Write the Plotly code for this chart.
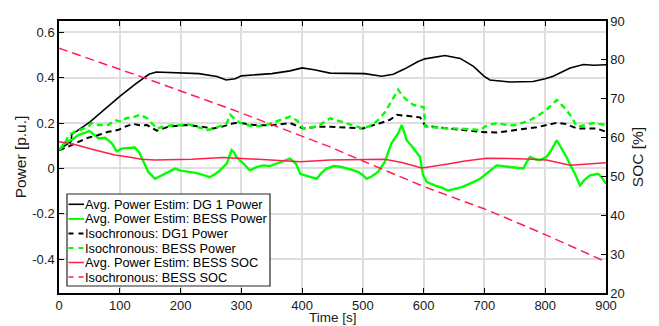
import plotly.graph_objects as go

# ---------------- data ----------------
# Average power estimation: DG 1 power [p.u.]
t_dg_avg = [0, 10, 20, 21, 30, 51, 75, 100, 125, 148, 160, 200, 230, 260, 275, 290, 300,
            350, 380, 400, 420, 446, 503, 531, 550, 569, 590, 602, 635, 660, 682, 700, 709,
            742, 780, 800, 813, 841, 863, 880, 900]
p_dg_avg = [0.083, 0.1, 0.118, 0.15, 0.165, 0.205, 0.26, 0.317, 0.37, 0.415, 0.425, 0.42,
            0.418, 0.405, 0.39, 0.395, 0.408, 0.418, 0.43, 0.443, 0.435, 0.42, 0.418, 0.406,
            0.415, 0.439, 0.47, 0.483, 0.498, 0.485, 0.45, 0.405, 0.39, 0.381, 0.383, 0.395,
            0.406, 0.443, 0.458, 0.455, 0.457]

# Average power estimation: BESS power [p.u.]
t_bess_avg = [0, 5, 10, 20, 32, 43, 50, 57, 65, 76, 87, 95, 103, 115, 125, 132, 140, 147,
              158, 166, 174, 183, 191, 200, 213, 225, 238, 248, 257, 265, 276, 284, 288, 292,
              300, 314, 325, 336, 347, 358, 370, 380, 390, 397, 410, 424, 432, 440, 452, 465,
              480, 492, 500, 506, 515, 525, 536, 547, 558, 564, 568, 572, 580, 586, 594, 599,
              605, 619, 630, 640, 652, 663, 678, 693, 705, 720, 742, 764, 770, 775, 784, 791,
              802, 810, 819, 827, 835, 842, 849, 857, 865, 874, 887, 893, 900]
p_bess_avg = [0.08, 0.1, 0.115, 0.124, 0.147, 0.157, 0.165, 0.15, 0.132, 0.135, 0.11, 0.075,
              0.087, 0.09, 0.092, 0.07, 0.02, -0.016, -0.046, -0.035, -0.024, -0.01, -0.001,
              -0.01, -0.016, -0.02, -0.03, -0.039, -0.025, -0.009, 0.021, 0.08, 0.07, 0.05,
              0.03, -0.009, 0.005, 0.013, 0.01, 0.021, 0.03, 0.043, 0.02, -0.024, -0.035,
              -0.046, -0.02, -0.001, 0.01, 0.006, -0.005, -0.016, -0.03, -0.046, -0.035,
              -0.016, 0.028, 0.11, 0.154, 0.191, 0.16, 0.124, 0.1, 0.08, 0.05, -0.03, -0.06,
              -0.076, -0.085, -0.098, -0.09, -0.083, -0.065, -0.046, -0.02, 0.013, 0.006,
              -0.001, 0.03, 0.05, 0.04, 0.036, 0.05, 0.08, 0.124, 0.09, 0.05, 0.01, -0.024,
              -0.076, -0.05, -0.031, -0.024, -0.04, -0.068]

# Isochronous: DG1 power [p.u.]
t_dg_iso = [0, 15, 32, 48, 65, 81, 98, 110, 122, 133, 145, 161, 180, 210, 230, 254, 270,
            287, 298, 320, 350, 380, 402, 429, 446, 470, 500, 528, 545, 556, 577, 594, 603,
            638, 693, 720, 753, 786, 819, 835, 852, 885, 900]
p_dg_iso = [0.08, 0.095, 0.117, 0.135, 0.147, 0.161, 0.17, 0.185, 0.196, 0.19, 0.191, 0.166,
            0.184, 0.191, 0.185, 0.176, 0.185, 0.199, 0.2, 0.191, 0.19, 0.2, 0.176, 0.184,
            0.184, 0.18, 0.176, 0.199, 0.215, 0.236, 0.231, 0.225, 0.187, 0.176, 0.161,
            0.158, 0.169, 0.181, 0.201, 0.195, 0.176, 0.176, 0.161]

# Isochronous: BESS power [p.u.]
t_bess_iso = [0, 8, 16, 25, 35, 48, 54, 65, 81, 92, 103, 110, 122, 133, 145, 153, 161, 175,
              188, 200, 210, 225, 243, 255, 270, 276, 282, 290, 298, 310, 320, 340, 360, 380,
              392, 402, 415, 429, 446, 460, 480, 500, 515, 528, 537, 545, 552, 558, 565, 572,
              583, 594, 600, 603, 620, 638, 660, 693, 705, 720, 740, 753, 775, 790, 802, 812,
              819, 827, 835, 845, 852, 865, 879, 890, 900]
p_bess_iso = [0.08, 0.1, 0.147, 0.16, 0.17, 0.184, 0.2, 0.191, 0.191, 0.213, 0.205, 0.221,
              0.225, 0.236, 0.221, 0.2, 0.176, 0.185, 0.191, 0.19, 0.196, 0.185, 0.169, 0.175,
              0.19, 0.199, 0.236, 0.215, 0.2, 0.19, 0.184, 0.19, 0.21, 0.228, 0.21, 0.176,
              0.18, 0.191, 0.221, 0.21, 0.195, 0.176, 0.19, 0.221, 0.25, 0.287, 0.32, 0.347,
              0.32, 0.302, 0.28, 0.272, 0.27, 0.184, 0.18, 0.176, 0.175, 0.169, 0.19, 0.199,
              0.19, 0.191, 0.213, 0.235, 0.258, 0.285, 0.302, 0.28, 0.258, 0.22, 0.184, 0.19,
              0.2, 0.195, 0.191]

# Average power estimation: BESS state of charge [%]
t_soc_avg = [0, 26, 59, 92, 109, 136, 158, 218, 270, 325, 397, 446, 536, 564, 597, 640, 668,
             704, 770, 802, 841, 900]
soc_avg = [58.9, 58.2, 56.8, 55.5, 55.1, 54.4, 54.2, 54.4, 54.9, 54.4, 53.8, 54.2, 54.4,
           53.6, 52.2, 53.2, 54.0, 54.7, 54.5, 54.2, 52.9, 53.5]

# Isochronous: BESS state of charge [%]
t_soc_iso = [0, 138, 287, 446, 501, 600, 704, 802, 900]
soc_iso = [83.0, 75.5, 67.1, 57.6, 53.9, 47.4, 41.4, 34.9, 28.0]

# Axis ticks
x_ticks = [0, 100, 200, 300, 400, 500, 600, 700, 800, 900]
p_ticks = [-0.4, -0.2, 0, 0.2, 0.4, 0.6]
p_tick_text = ["-0.4", "-0.2", "0", "0.2", "0.4", "0.6"]
soc_ticks = [20, 30, 40, 50, 60, 70, 80, 90]

legend_names = [
    "Avg. Power Estim: DG 1 Power",
    "Avg. Power Estim: BESS Power",
    "Isochronous: DG1 Power",
    "Isochronous: BESS Power",
    "Avg. Power Estim: BESS SOC",
    "Isochronous: BESS SOC",
]

# ---------------- styles ----------------
BLACK = "#000000"
GREEN = "#00ff00"
RED = "#ff1f4f"
FONT = "Liberation Sans, Arial, sans-serif"
DASH_SHORT = "6px,4px"
DASH_RED = "9px,5px"

styles = [
    dict(color=BLACK, width=1.6, dash="solid"),
    dict(color=GREEN, width=2.4, dash="solid"),
    dict(color=BLACK, width=2.0, dash=DASH_SHORT),
    dict(color=GREEN, width=2.4, dash=DASH_SHORT),
    dict(color=RED, width=1.5, dash="solid"),
    dict(color=RED, width=1.5, dash=DASH_RED),
]

series = [
    (t_dg_avg, p_dg_avg, "y"),
    (t_bess_avg, p_bess_avg, "y"),
    (t_dg_iso, p_dg_iso, "y"),
    (t_bess_iso, p_bess_iso, "y"),
    (t_soc_avg, soc_avg, "y2"),
    (t_soc_iso, soc_iso, "y2"),
]

fig = go.Figure()
for (tx, vy, ax), name, st in zip(series, legend_names, styles):
    fig.add_trace(go.Scatter(x=tx, y=vy, yaxis=ax, mode="lines", name=name,
                             line=st, showlegend=False, hoverinfo="skip"))

# ---------------- legend box (drawn in paper coordinates) ----------------
L, R, T, B = 59, 606, 21, 293
W, H = R - L, B - T


def px_x(p):
    return (p - L) / W


def px_y(p):
    return (B - p) / H


shapes = [dict(type="rect", xref="paper", yref="paper",
               x0=px_x(67), x1=px_x(270), y0=px_y(286), y1=px_y(194),
               line=dict(color="#262626", width=1.2), fillcolor="white", layer="above")]
annotations = []
row_y = [204.3, 218.9, 233.4, 248.0, 262.5, 277.0]
for name, st, ry in zip(legend_names, styles, row_y):
    dash = st["dash"]
    if dash != "solid":
        dash = "5px,5px"
    shapes.append(dict(type="line", xref="paper", yref="paper",
                       x0=px_x(68.5), x1=px_x(84), y0=px_y(ry), y1=px_y(ry),
                       line=dict(color=st["color"], width=min(st["width"], 2.0), dash=dash),
                       layer="above"))
    annotations.append(dict(xref="paper", yref="paper", x=px_x(83), y=px_y(ry),
                            xanchor="left", yanchor="middle", showarrow=False,
                            text=name, font=dict(family=FONT, size=12.8, color="#000000")))

# x-axis title, placed right at the bottom edge of the page
annotations.append(dict(xref="paper", yref="paper", x=0.5, y=px_y(326),
                        xanchor="center", yanchor="bottom", showarrow=False,
                        borderpad=0,
                        text="Time [s]", font=dict(family=FONT, size=13.5, color="#1a1a1a")))

axis_common = dict(
    showline=True, linecolor=BLACK, linewidth=1.5,
    ticks="inside", ticklen=5, tickwidth=1.3, tickcolor=BLACK,
    tickfont=dict(family=FONT, size=13, color="#1a1a1a"),
    zeroline=False, automargin=False,
)

fig.update_layout(
    width=659, height=326,
    margin=dict(l=L, r=659 - R, t=T, b=326 - B),
    paper_bgcolor="white", plot_bgcolor="white",
    showlegend=False,
    shapes=shapes, annotations=annotations,
    xaxis=dict(axis_common, range=[0, 900], tickvals=x_ticks, mirror="ticks",
               showgrid=True, gridcolor="#dedede", gridwidth=1.5),
    yaxis=dict(axis_common, range=[-0.55, 0.65], tickvals=p_ticks, ticktext=p_tick_text,
               showgrid=True, gridcolor="#dedede", gridwidth=1.5,
               title=dict(text="Power [p.u.]", font=dict(family=FONT, size=15.5, color="#1a1a1a"),
                          standoff=2)),
    yaxis2=dict(axis_common, range=[20, 90], tickvals=soc_ticks, overlaying="y", side="right",
                showgrid=False,
                title=dict(text="SOC [%]", font=dict(family=FONT, size=15.5, color="#1a1a1a"),
                           standoff=8)),
)

fig.write_html("out.html")
